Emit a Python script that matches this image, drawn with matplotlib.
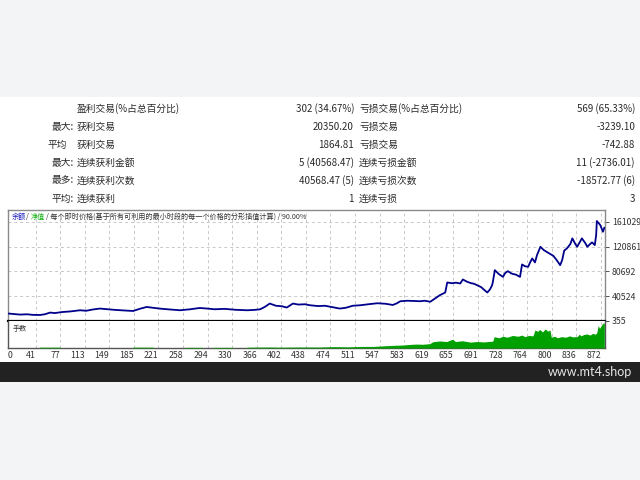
import matplotlib
matplotlib.use("Agg")
import matplotlib.pyplot as plt
from matplotlib.patches import Rectangle

plt.rcParams['font.family'] = ['Noto Sans CJK SC', 'DejaVu Sans']

# ---------------- data ----------------
table_rows = [
    ("", "盈利交易(%占总百分比)", "302 (34.67%)", "亏损交易(%占总百分比)", "569 (65.33%)"),
    ("最大:", "获利交易", "20350.20", "亏损交易", "-3239.10"),
    ("平均", "获利交易", "1864.81", "亏损交易", "-742.88"),
    ("最大:", "连续获利金额", "5 (40568.47)", "连续亏损金额", "11 (-2736.01)"),
    ("最多:", "连续获利次数", "40568.47 (5)", "连续亏损次数", "-18572.77 (6)"),
    ("平均:", "连续获利", "1", "连续亏损", "3"),
]

trade_no = [1.5, 9, 18, 28, 37, 47, 54, 62, 69, 79, 91, 106, 115, 124, 135, 147,
            157, 171, 184, 194, 204, 213, 224, 238, 253, 268, 282, 293, 304, 319,
            334, 352, 363, 371, 378, 385, 394, 403, 410, 419, 427, 437, 444, 456,
            466, 478, 488, 497, 507, 518, 530, 543, 555, 566, 572, 577, 587, 596,
            606, 613, 621, 628, 635, 643, 644, 646, 653, 659, 665, 669, 675, 681,
            685, 690, 696, 700, 705, 709, 712, 713, 716, 722, 728, 731, 735, 741,
            747, 753, 756, 760, 765, 768, 771, 775, 778, 783, 788, 794, 802, 807,
            812, 815, 818, 822, 827, 830, 834, 837, 841, 844, 849, 852, 856, 859,
            863, 865, 866, 871, 875, 877]
balance = [12370, 11550, 10740, 11230, 10260, 10090, 11230, 13990, 13180, 14800,
           15770, 17720, 16910, 18860, 20480, 19340, 18370, 17400, 16590, 20160,
           23080, 21780, 20320, 19020, 17720, 19340, 21450, 20480, 19340, 19990,
           18530, 17720, 18370, 19340, 23400, 28600, 25030, 24210, 22100, 28600,
           26970, 27460, 25840, 24540, 25030, 22590, 20480, 21780, 25030, 25840,
           27460, 29080, 28270, 26320, 29080, 32330, 33140, 32820, 32330, 33140,
           31520, 36710, 42070, 46450, 51800, 62680, 61540, 62350, 61060, 67550,
           63980, 61540, 60730, 58300, 55050, 50990, 46450, 51800, 58300, 63170,
           82640, 76150, 71770, 77770, 81020, 76960, 75340, 71770, 91890, 89130,
           88000, 95630, 101630, 95140, 106990, 120460, 115100, 111040, 105850,
           98870, 90760, 98870, 114290, 117860, 124840, 134090, 125650, 120460,
           128090, 134090, 126460, 120460, 124840, 127600, 123220, 139450, 162170,
           155680, 144800, 151290]

vol_trade = [0, 45, 47, 76, 78, 182, 184, 213, 215, 260, 262, 285, 287, 300, 302,
             330, 332, 350, 352, 385, 400, 430, 459, 480, 500, 520, 537, 557, 570,
             580, 590, 600, 610, 620, 625, 635, 645, 654, 658, 668, 680, 690, 700,
             713, 715, 722, 728, 734, 742, 750, 756, 760, 766, 772, 775, 779, 782,
             786, 790, 794, 797, 799, 804, 808, 814, 820, 826, 830, 837, 840, 843,
             846, 851, 856, 860, 864, 866, 868, 870, 872, 875, 877]
vol_lots = [0, 0, 0.04, 0.04, 0, 0, 0.04, 0.04, 0, 0, 0.03, 0.03, 0, 0, 0.03,
            0.03, 0, 0, 0.04, 0.05, 0.04, 0.05, 0.05, 0.07, 0.06, 0.08, 0.08,
            0.12, 0.14, 0.15, 0.18, 0.2, 0.19, 0.22, 0.32, 0.36, 0.33, 0.45, 0.33,
            0.37, 0.3, 0.33, 0.31, 0.35, 0.58, 0.52, 0.6, 0.55, 0.64, 0.6, 0.66,
            0.58, 0.64, 0.62, 0.92, 0.85, 0.95, 0.82, 0.97, 0.86, 0.92, 0.55, 0.6,
            0.52, 0.58, 0.55, 0.62, 0.57, 0.58, 0.7, 0.62, 0.68, 0.72, 0.66, 0.75,
            0.7, 0.8, 1.15, 1.0, 1.12, 1.27, 1.27]

y_ticks = [355, 40524, 80692, 120861, 161029]
x_ticks = [0, 41, 77, 113, 149, 185, 221, 258, 294, 330, 366, 402, 438, 474,
           511, 547, 583, 619, 655, 691, 728, 764, 800, 836, 872]

# ---------------- figure ----------------
W, H = 640, 480
fig = plt.figure(figsize=(6.4, 4.8), dpi=100)
fig.patch.set_facecolor('white')

def fy(y):
    return 1 - y / H

# background bands
fig.patches.append(Rectangle((0, fy(97)), 1, 97 / H, transform=fig.transFigure,
                             facecolor='#f3f4f6', edgecolor='none', zorder=0))
fig.patches.append(Rectangle((0, fy(382)), 1, 20 / H, transform=fig.transFigure,
                             facecolor='#222222', edgecolor='none', zorder=0))
fig.patches.append(Rectangle((0, 0), 1, fy(382), transform=fig.transFigure,
                             facecolor='#f3f4f6', edgecolor='none', zorder=0))
fig.text(632 / W, fy(372), "www.mt4.shop", color='#e6e6e6', fontsize=9,
         ha='right', va='center', family=['Lato', 'DejaVu Sans'])

# table
row_y = [109, 127, 145, 163, 180.5, 198.5]
tcol = '#2a2a2a'
fs = 7.0
for (a, b, c, d, e), y in zip(table_rows, row_y):
    if a:
        xa = 67 if a == "平均" else 74
        fig.text(xa / W, fy(y), a, ha='right', va='center', fontsize=fs, color=tcol)
    fig.text(77 / W, fy(y), b, ha='left', va='center', fontsize=fs, color=tcol)
    fig.text(354 / W, fy(y), c, ha='right', va='center', fontsize=fs, color=tcol)
    fig.text(359 / W, fy(y), d, ha='left', va='center', fontsize=fs, color=tcol)
    fig.text(635 / W, fy(y), e, ha='right', va='center', fontsize=fs, color=tcol)

# axes
L, R = 8, 605
top_main, bot_main, bot_vol = 210, 321, 348
ax = fig.add_axes([L / W, fy(bot_main), (R - L) / W, (bot_main - top_main) / H])
axv = fig.add_axes([L / W, fy(bot_vol), (R - L) / W, (bot_vol - bot_main) / H])

xlim = (0, 878)
grid_kw = dict(color='#c8c8c8', linestyle=(0, (3, 3)), linewidth=0.7)

ax.plot(trade_no, balance, color='#00008b', linewidth=1.3, zorder=3)
ax.set_xlim(*xlim)
ax.set_ylim(355, 180000)
ax.set_yticks(y_ticks)
ax.set_yticklabels([str(v) for v in y_ticks])
ax.yaxis.tick_right()
ax.tick_params(axis='y', labelsize=6.3, length=3, width=0.6, colors='#333333', pad=2)
ax.set_xticks(x_ticks)
ax.tick_params(axis='x', length=0, labelbottom=False)
ax.grid(True, **grid_kw)
for s in ax.spines.values():
    s.set_color('#8a8a8a')
    s.set_linewidth(1.0)
ax.spines['bottom'].set_color('black')
ax.spines['bottom'].set_linewidth(1.6)

hfs = 5.1
ax.text(0.006, 0.94, "余额", transform=ax.transAxes, fontsize=hfs, color='#2020c0',
        va='center', ha='left')
ax.text(0.030, 0.94, "/", transform=ax.transAxes, fontsize=hfs, color='#333333',
        va='center', ha='left')
ax.text(0.038, 0.94, "净值", transform=ax.transAxes, fontsize=hfs, color='#10b010',
        va='center', ha='left')
ax.text(0.063, 0.94, "/ 每个即时价格(基于所有可利用的最小时段的每一个价格的分形插值计算) / 90.00%",
        transform=ax.transAxes, fontsize=hfs, color='#333333', va='center', ha='left')

axv.fill_between(vol_trade, 0, vol_lots, color='#00a000', linewidth=0, zorder=3)
axv.set_xlim(*xlim)
axv.set_ylim(0, 1.38)
axv.set_yticks([])
axv.set_xticks(x_ticks)
axv.set_xticklabels([str(v) for v in x_ticks])
axv.tick_params(axis='x', labelsize=6.3, length=0, pad=2, colors='#333333')
for lbl in axv.get_xticklabels():
    lbl.set_horizontalalignment('right')
axv.get_xticklabels()[0].set_horizontalalignment('left')
axv.grid(True, axis='x', **grid_kw)
for s in axv.spines.values():
    s.set_color('#555555')
    s.set_linewidth(1.0)
axv.spines['top'].set_visible(False)
axv.text(0.008, 0.72, "手数", transform=axv.transAxes, fontsize=5.1,
         color='#333333', va='center', ha='left')

fig.savefig("out.png", dpi=100, facecolor=fig.get_facecolor())
